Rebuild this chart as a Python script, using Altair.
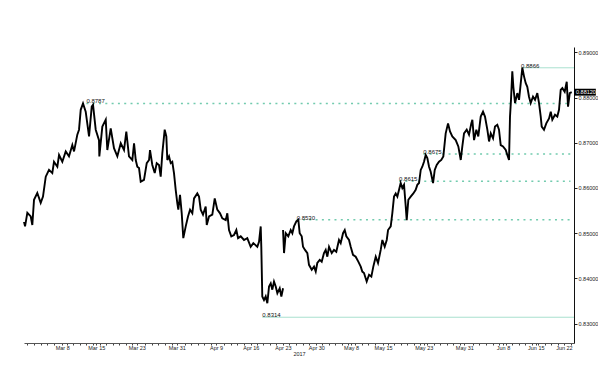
import altair as alt
import pandas as pd

# ---- price path (trading-day index, EUR/GBP level) ----
day = [-1.53, -1.37, -1.02, -0.50, -0.26, 0.00, 0.50, 1.02, 1.37, 1.79, 2.29, 2.79, 3.05, 3.56, 3.82,
       4.32, 4.84, 5.34, 5.85, 6.11, 6.61, 6.87, 7.13, 7.48, 7.89, 8.40, 8.81, 9.01, 9.42, 9.92,
       9.97, 10.43, 10.95, 11.19, 11.71, 12.21, 12.72, 13.24, 13.74, 14.09, 14.50, 15.01, 15.27, 15.53, 15.77,
       16.03, 16.29, 16.79, 17.21, 17.56, 17.71, 18.06, 18.43, 18.73, 19.08, 19.34, 19.59, 19.95, 20.20, 20.35,
       20.61, 20.87, 21.11, 21.37, 21.63, 21.88, 22.03, 22.29, 22.55, 22.79, 23.16, 23.51, 23.82, 24.17, 24.43,
       24.93, 25.19, 25.45, 25.80, 26.21, 26.37, 26.72, 27.22, 27.59, 27.98, 28.40, 28.75, 29.27, 29.51, 29.77,
       30.12, 30.53, 30.89, 31.15, 31.56, 32.06, 32.56, 33.08, 33.48, 34.09, 34.35, 34.61, 34.70, 34.85, 35.11,
       35.37, 35.62, 35.88, 36.14, 36.38, 36.64, 36.90, 37.15, 37.51, 37.76, 38.02,
       38.02, 38.17, 38.43, 38.82, 39.19, 39.44, 39.69, 40.05, 40.35, 40.56, 40.87, 41.07, 41.37, 41.73, 41.98,
       42.40, 42.75, 43.01, 43.25, 43.62, 43.92, 44.27, 44.53, 44.78, 45.04, 45.45, 45.80, 46.15, 46.56, 46.82,
       47.18, 47.44, 47.68, 48.09, 48.35, 48.70, 49.11, 49.51, 49.88, 50.12, 50.38, 50.79, 51.15, 51.50, 51.80,
       52.17, 52.52, 52.93, 53.18, 53.54, 53.85, 54.05, 54.46, 54.70, 54.96, 55.22, 55.47, 55.73, 55.98, 56.23,
       56.49, 56.75, 56.90, 57.15, 57.51, 57.91, 58.27, 58.52, 58.78, 59.04, 59.28, 59.54, 59.80, 60.05, 60.31,
       60.56, 60.92, 61.18, 61.48, 61.83, 62.18, 62.49, 62.85, 63.21, 63.51, 63.86, 64.38, 64.78, 65.15, 65.39,
       65.65, 66.06, 66.41, 66.76, 66.92, 67.18, 67.53, 67.83, 68.20, 68.55, 68.85, 69.21, 69.47, 69.73, 70.08,
       70.38, 70.73, 70.99, 71.25, 71.60, 72.02, 72.26, 72.52, 72.67, 72.82, 73.02, 73.18, 73.44, 73.79, 74.05,
       74.31, 74.55, 74.81, 75.07, 75.31, 75.57, 75.83, 76.18, 76.49, 76.84, 77.10, 77.36, 77.51, 77.86, 78.21,
       78.63, 78.89, 79.13, 79.54, 79.89, 80.15, 80.41, 80.66, 81.02, 81.33, 81.53, 81.79, 82.09]

price = [0.8525, 0.8515, 0.8545, 0.8537, 0.8518, 0.8574, 0.8589, 0.8567, 0.8581, 0.8625, 0.8640, 0.8633, 0.8658, 0.8647, 0.8673,
         0.8658, 0.8681, 0.8670, 0.8695, 0.8681, 0.8718, 0.8729, 0.8773, 0.8787, 0.8769, 0.8714, 0.8780, 0.8784, 0.8729, 0.8706,
         0.8670, 0.8736, 0.8751, 0.8684, 0.8732, 0.8688, 0.8670, 0.8699, 0.8684, 0.8725, 0.8670, 0.8662, 0.8699, 0.8662, 0.8647,
         0.8644, 0.8614, 0.8618, 0.8655, 0.8662, 0.8684, 0.8651, 0.8633, 0.8655, 0.8651, 0.8625, 0.8677, 0.8729, 0.8714, 0.8662,
         0.8670, 0.8655, 0.8658, 0.8633, 0.8596, 0.8566, 0.8552, 0.8585, 0.8544, 0.8489, 0.8515, 0.8537, 0.8552, 0.8544, 0.8577,
         0.8588, 0.8581, 0.8552, 0.8541, 0.8559, 0.8518, 0.8537, 0.8541, 0.8577, 0.8552, 0.8544, 0.8533, 0.8529, 0.8544, 0.8507,
         0.8493, 0.8496, 0.8507, 0.8489, 0.8493, 0.8485, 0.8489, 0.8470, 0.8478, 0.8470, 0.8481, 0.8515, 0.8470, 0.8360, 0.8352,
         0.8360, 0.8345, 0.8382, 0.8389, 0.8375, 0.8393, 0.8382, 0.8367, 0.8378, 0.8360, 0.8378,
         0.8507, 0.8456, 0.8500, 0.8493, 0.8507, 0.8500, 0.8515, 0.8526, 0.8530, 0.8500, 0.8493, 0.8470, 0.8463, 0.8456, 0.8430,
         0.8419, 0.8426, 0.8415, 0.8434, 0.8441, 0.8437, 0.8456, 0.8463, 0.8448, 0.8470, 0.8456, 0.8463, 0.8459, 0.8485, 0.8478,
         0.8500, 0.8507, 0.8493, 0.8485, 0.8470, 0.8452, 0.8448, 0.8437, 0.8426, 0.8415, 0.8412, 0.8393, 0.8408, 0.8404, 0.8426,
         0.8448, 0.8434, 0.8463, 0.8485, 0.8470, 0.8485, 0.8507, 0.8515, 0.8544, 0.8581, 0.8588, 0.8581, 0.8596, 0.8611, 0.8600,
         0.8607, 0.8559, 0.8529, 0.8574, 0.8581, 0.8588, 0.8596, 0.8607, 0.8611, 0.8640, 0.8647, 0.8658, 0.8673, 0.8666, 0.8647,
         0.8636, 0.8611, 0.8640, 0.8651, 0.8658, 0.8662, 0.8670, 0.8721, 0.8743, 0.8725, 0.8714, 0.8706, 0.8692, 0.8662, 0.8692,
         0.8721, 0.8729, 0.8718, 0.8743, 0.8751, 0.8706, 0.8729, 0.8714, 0.8758, 0.8769, 0.8758, 0.8729, 0.8703, 0.8721, 0.8710,
         0.8736, 0.8740, 0.8729, 0.8695, 0.8692, 0.8684, 0.8673, 0.8662, 0.8758, 0.8795, 0.8858, 0.8824, 0.8788, 0.8810, 0.8795,
         0.8832, 0.8866, 0.8847, 0.8832, 0.8824, 0.8802, 0.8788, 0.8802, 0.8795, 0.8810, 0.8788, 0.8758, 0.8736, 0.8729, 0.8743,
         0.8754, 0.8769, 0.8751, 0.8762, 0.8758, 0.8773, 0.8817, 0.8821, 0.8813, 0.8835, 0.8780, 0.8810, 0.8812]

# the line breaks at the weekend gap (segment 1 ends, segment 2 starts)
n_first = 116
segment = [1] * n_first + [2] * (len(day) - n_first)

# ---- annotated levels ----
level_value = [0.8787, 0.8866, 0.8675, 0.8615, 0.8530, 0.8314]
level_start = [8.0, 74.35, 59.44, 55.73, 40.1, 34.85]
level_end = [81.9, 82.44, 81.9, 81.9, 81.9, 82.44]
level_kind = ["dotted", "solid", "dotted", "dotted", "dotted", "solid"]

last_value = [0.8812]

# ---- axes ----
x_min, x_max = -1.53, 82.44
y_min, y_max = 0.8257, 0.8912
tick_days = [4.3, 9.5, 15.7, 21.8, 27.8, 33.1, 38.0, 43.1, 48.4, 53.3, 59.5, 65.7, 71.6, 76.6, 80.9]
tick_labels = ["Mar 8", "Mar 15", "Mar 23", "Mar 31", "Apr 9", "Apr 16", "Apr 23", "Apr 30",
               "May 8", "May 15", "May 23", "May 31", "Jun 8", "Jun 15", "Jun 22"]
y_ticks = [0.83, 0.84, 0.85, 0.86, 0.87, 0.88, 0.89]

FONT = "Liberation Sans"

series = pd.DataFrame({"day": day, "price": price, "segment": segment})
levels = pd.DataFrame({"value": level_value, "start": level_start, "end": level_end,
                       "kind": level_kind})
last = pd.DataFrame({"value": last_value, "x": [x_max]})

minor = [float(i) for i in range(-1, 83) if all(abs(i - t) > 0.35 for t in tick_days)]
axis_values = sorted(minor + tick_days)
arr_pos = "[" + ",".join(repr(t) for t in tick_days) + "]"
arr_lab = "[" + ",".join("'" + s + "'" for s in tick_labels) + "]"
label_expr = f"indexof({arr_pos}, datum.value) >= 0 ? {arr_lab}[indexof({arr_pos}, datum.value)] : ''"

xscale = alt.Scale(domain=[x_min, x_max], nice=False, zero=False)
yscale = alt.Scale(domain=[y_min, y_max], nice=False, zero=False)

xaxis = alt.Axis(values=axis_values, labelExpr=label_expr, tickSize=2, tickColor="#444",
                 domainColor="#555", labelFontSize=5.5, labelPadding=0, labelColor="#222",
                 labelFont=FONT, labelOverlap=False, labelBound=False, labelFlush=False,
                 title="2017", titleFont=FONT, titleFontSize=5.5, titleFontWeight="normal",
                 titleColor="#222", titlePadding=1, grid=False)
yaxis = alt.Axis(orient="right", values=y_ticks, format=".5f", tickSize=3, tickColor="#222",
                 domainColor="#111", labelFontSize=5.5, labelPadding=1, labelColor="#222",
                 labelFont=FONT, labelOverlap=False, title=None, grid=False)

X = lambda f: alt.X(f, type="quantitative", scale=xscale, axis=xaxis)
Y = lambda f: alt.Y(f, type="quantitative", scale=yscale, axis=yaxis)

line = alt.Chart(series).mark_line(color="#000000", strokeWidth=1.9).encode(
    x=X("day"), y=Y("price"), detail="segment:N")

dotted = alt.Chart(levels).transform_filter(alt.datum.kind == "dotted").mark_rule(
    color="#72cbae", strokeWidth=1.5, strokeDash=[2, 4.3]).encode(
    x=X("start"), x2="end", y=Y("value"))

solid = alt.Chart(levels).transform_filter(alt.datum.kind == "solid").mark_rule(
    color="#a9e0cf", strokeWidth=1).encode(
    x=X("start"), x2="end", y=Y("value"))

level_text = alt.Chart(levels).mark_text(
    align="left", baseline="bottom", dy=1, fontSize=6, font=FONT, color="#111").encode(
    x=X("start"), y=Y("value"), text=alt.Text("value:Q", format=".4f"))

badge = alt.Chart(last).mark_point(
    shape="M0,-0.3H1.9V0.3H0Z", filled=True, color="#000000", size=529, opacity=1,
    strokeWidth=0).encode(x=X("x"), y=Y("value"))

badge_text = alt.Chart(last).mark_text(
    align="left", baseline="middle", dx=2, fontSize=5.5, font=FONT, color="#ffffff").encode(
    x=X("x"), y=Y("value"), text=alt.Text("value:Q", format=".5f"))

chart = alt.layer(solid, dotted, line, level_text, badge, badge_text).properties(
    width=550, height=296,
    padding={"left": 20, "top": 47, "right": 0, "bottom": 0},
    background="#ffffff",
).configure_view(stroke=None)

chart.save("out.html", embed_options={"renderer": "svg", "actions": False})
